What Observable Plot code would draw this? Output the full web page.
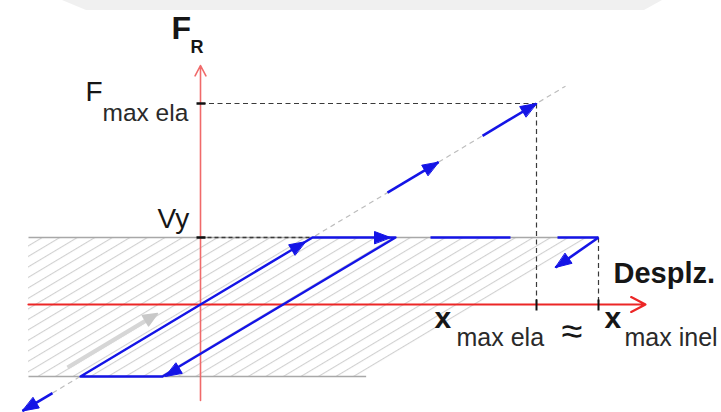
<!DOCTYPE html>
<html>
<head>
<meta charset="utf-8">
<script src="https://cdn.jsdelivr.net/npm/d3@7"></script>
<script src="https://cdn.jsdelivr.net/npm/@observablehq/plot@0.6"></script>
<style>
  body { margin: 0; background: #fff; }
  #chart { position: relative; width: 721px; height: 412px; overflow: hidden; }
  #band { position: absolute; top: 0; left: 62px; width: 600px; height: 10px; background: #f0f0f0;
          clip-path: polygon(0 0, 100% 0, 97% 100%, 4% 100%); }
  #chart svg { position: absolute; left: 0; top: 0; }
</style>
</head>
<body>
<div id="chart"><div id="band"></div></div>
<script>
// Equal-displacement rule: elastic vs. elasto-plastic response (force F_R vs. displacement)

// Characteristic levels
const Fmax = 201;        // maximum elastic force
const Vy = 67;           // yield force (positive)
const VyNeg = -72;       // yield force (negative)
const xMaxEla = 336;     // peak displacement, elastic system
const xMaxInel = 398;    // peak displacement, inelastic system
const k = Fmax / xMaxEla; // elastic stiffness

// Axis extents
const xAxisExtent = [-172, 445];
const yAxisExtent = [-96, 239];

// Hysteresis loop of the yielding system
const loopX = [0, 112, 195, -38, -120, 0];
const loopF = [0, 67, 67, -72, -72, 0];

// Blue dashes along the elastic branch (x start, x end)
const elasticDashes = [[187, 238], [282, 336]];
// Blue dashes along the yield plateau
const plateauDashes = [[230, 310], [357, 398]];
// Unloading from the inelastic peak
const unloadX = [398, 355];
const unloadF = [67, 37];
// Elastic branch continued into the negative quadrant
const negTailX = [-148, -178];
// Faint gray arrow on the initial branch
const grayArrowX = [-133, -43];
const grayArrowF = [-63, -9];

// Labels
const labelFR = ["F", "R"];
const labelFmax = ["F", "max ela"];
const labelVy = "Vy";
const labelDispl = "Desplz.";
const labelXela = ["x", "max ela"];
const labelApprox = "≈";
const labelXinel = ["x", "max inel"];

const BLUE = "#1414e6";
const FONT = "'Liberation Sans', Arial, Helvetica, sans-serif";

// Filled arrowhead polygon at a tip, pointing away from `from`
function head(id, tip, from, len = 16, half = 6) {
  const dx = tip[0] - from[0], dy = tip[1] - from[1], n = Math.hypot(dx, dy);
  const ux = dx / n, uy = dy / n;
  const bx = tip[0] - ux * len, by = tip[1] - uy * len;
  return [
    {id, x: tip[0], F: tip[1]},
    {id, x: bx - uy * half, F: by + ux * half},
    {id, x: bx + uy * half, F: by - ux * half}
  ];
}

const loop = loopX.map((x, i) => ({x, F: loopF[i]}));
const elasticSegs = elasticDashes.map(([a, b]) => ({x1: a, y1: k * a, x2: b, y2: k * b}));
const plateauSegs = plateauDashes.map(([a, b]) => ({x1: a, y1: Vy, x2: b, y2: Vy}));
const unloadSeg = [{x1: unloadX[0], y1: unloadF[0], x2: unloadX[1], y2: unloadF[1]}];
const tailSeg = [{x1: negTailX[0], y1: k * negTailX[0], x2: negTailX[1], y2: k * negTailX[1]}];

const blueHeads = [
  ...head("a", [105, k * 105], [0, 0]),
  ...head("b", [190, Vy], [112, Vy]),
  ...head("c", [loopX[3] + 3, VyNeg], [loopX[2], Vy]),
  ...elasticSegs.flatMap((s, i) => head("e" + i, [s.x2, s.y2], [s.x1, s.y1])),
  ...head("u", [unloadX[1], unloadF[1]], [unloadX[0], unloadF[0]]),
  ...head("t", [negTailX[1], k * negTailX[1]], [negTailX[0], k * negTailX[0]])
];
const grayHead = head("g", [grayArrowX[1], grayArrowF[1]], [grayArrowX[0], grayArrowF[0]], 14, 6);

// Hatched band between the two yield levels; right edge is the unloading line from x_max_inel
const band = [VyNeg, Vy].map(F => ({F, xl: xAxisExtent[0], xr: xMaxInel + (F - Vy) / k}));

const dashedRefs = [
  {x1: 0, y1: Fmax, x2: xMaxEla, y2: Fmax},
  {x1: xMaxEla, y1: Fmax, x2: xMaxEla, y2: 0},
  {x1: xMaxInel, y1: Vy, x2: xMaxInel, y2: 0}
];

const text = (t, x, y, o) => Plot.text([t], {x: () => x, y: () => y, text: d => d,
  textAnchor: "start", lineAnchor: "bottom", fill: "#161616", fontFamily: FONT, ...o});

const svg = Plot.plot({
  width: 721,
  height: 412,
  margin: 0,
  style: {background: "transparent", fontFamily: FONT},
  x: {domain: [-200, 521], range: [0, 721], axis: null},
  y: {domain: [-108, 304], range: [412, 0], axis: null},
  marks: [
    // hatched region
    Plot.areaX(band, {y: "F", x1: "xl", x2: "xr", fill: "url(#hatch)"}),
    // yield levels
    Plot.link([{x1: xAxisExtent[0], y1: Vy, x2: xMaxInel, y2: Vy},
               {x1: xAxisExtent[0], y1: VyNeg, x2: xMaxInel + (VyNeg - Vy) / k, y2: VyNeg}],
      {x1: "x1", y1: "y1", x2: "x2", y2: "y2", stroke: "#a8a8a8", strokeWidth: 1.3}),
    // elastic branch (gray dashed)
    Plot.link([{x1: negTailX[0], y1: k * negTailX[0], x2: 365, y2: k * 365}],
      {x1: "x1", y1: "y1", x2: "x2", y2: "y2", stroke: "#bdbdbd", strokeWidth: 1.2, strokeDasharray: "5,4"}),
    // faint gray arrow
    Plot.link([{x1: grayArrowX[0], y1: grayArrowF[0], x2: grayArrowX[1] - 10, y2: grayArrowF[1] - 6}],
      {x1: "x1", y1: "y1", x2: "x2", y2: "y2", stroke: "#d6d6d6", strokeWidth: 4}),
    Plot.line(grayHead, {x: "x", y: "F", z: "id", curve: "linear-closed", fill: "#c8c8c8", stroke: "#c8c8c8"}),
    // dashed reference lines
    Plot.link(dashedRefs, {x1: "x1", y1: "y1", x2: "x2", y2: "y2", stroke: "#3a3a3a", strokeWidth: 1.2, strokeDasharray: "5,3.5"}),
    Plot.link([{x1: 0, y1: Vy, x2: 112, y2: Vy}], {x1: "x1", y1: "y1", x2: "x2", y2: "y2", stroke: "#3a3a3a", strokeWidth: 1.3, strokeDasharray: "4,3"}),
    // axes
    Plot.arrow([{x1: xAxisExtent[0], y1: 0, x2: xAxisExtent[1], y2: 0}],
      {x1: "x1", y1: "y1", x2: "x2", y2: "y2", stroke: "#ec2626", strokeWidth: 2.2, headLength: 11, headAngle: 55}),
    Plot.arrow([{x1: 0, y1: yAxisExtent[0], x2: 0, y2: yAxisExtent[1]}],
      {x1: "x1", y1: "y1", x2: "x2", y2: "y2", stroke: "#f06a6a", strokeWidth: 1.6, headLength: 11, headAngle: 55}),
    // response paths
    Plot.line(loop, {x: "x", y: "F", stroke: BLUE, strokeWidth: 2.4, strokeLinejoin: "round"}),
    Plot.link([...elasticSegs, ...plateauSegs, ...unloadSeg, ...tailSeg],
      {x1: "x1", y1: "y1", x2: "x2", y2: "y2", stroke: BLUE, strokeWidth: 2.6}),
    Plot.line(blueHeads, {x: "x", y: "F", z: "id", curve: "linear-closed", fill: BLUE, stroke: BLUE, strokeWidth: 1}),
    // ticks
    Plot.link([Fmax, Vy], {x1: -4, x2: 5, y1: d => d, y2: d => d, stroke: "#111", strokeWidth: 2.5}),
    Plot.link([xMaxEla, xMaxInel], {x1: d => d, x2: d => d, y1: 5, y2: -6, stroke: "#111", strokeWidth: 2}),
    // labels
    text(labelFR[0], 0, yAxisExtent[1], {dx: -29, dy: -27, fontSize: 32, fontWeight: "bold"}),
    text(labelFR[1], 0, yAxisExtent[1], {dx: -10, dy: -13, fontSize: 18, fontWeight: "bold"}),
    text(labelFmax[0], 0, Fmax, {dx: -115, dy: -3, fontSize: 28}),
    text(labelFmax[1], 0, Fmax, {dx: -98, dy: 17, fontSize: 24.5, fill: "#2a2a2a"}),
    text(labelVy, 0, Vy, {dx: -43, dy: -10, fontSize: 28}),
    text(labelDispl, xAxisExtent[1], 0, {dx: -32, dy: -22, fontSize: 29, fontWeight: "bold"}),
    text(labelXela[0], xMaxEla, 0, {dx: -102, dy: 23, fontSize: 30, fontWeight: "bold"}),
    text(labelXela[1], xMaxEla, 0, {dx: -80, dy: 41, fontSize: 25, fill: "#2a2a2a"}),
    text(labelApprox, xMaxInel, 0, {dx: -37, dy: 39, fontSize: 38}),
    text(labelXinel[0], xMaxInel, 0, {dx: 6, dy: 23, fontSize: 30, fontWeight: "bold"}),
    text(labelXinel[1], xMaxInel, 0, {dx: 26, dy: 41, fontSize: 25, fill: "#2a2a2a"})
  ]
});

// Hatch pattern parallel to the elastic branch
const angle = -Math.atan(k) * 180 / Math.PI;
const defs = d3.select(svg).insert("defs", ":first-child");
const pat = defs.append("pattern")
  .attr("id", "hatch")
  .attr("patternUnits", "userSpaceOnUse")
  .attr("width", 12).attr("height", 9)
  .attr("patternTransform", `rotate(${angle})`);
pat.append("line").attr("x1", 0).attr("x2", 12).attr("y1", 0.6).attr("y2", 0.6)
  .attr("stroke", "#cbcbcb").attr("stroke-width", 1);

document.getElementById("chart").append(svg);
</script>
</body>
</html>
